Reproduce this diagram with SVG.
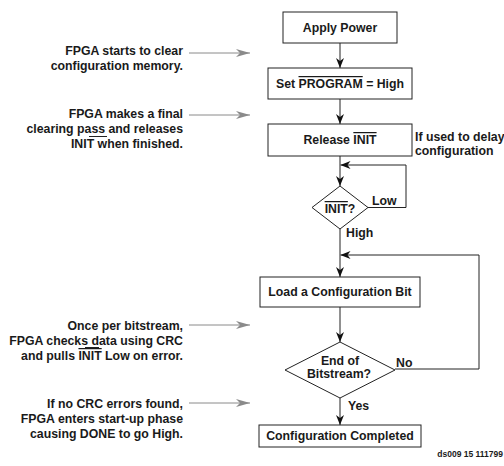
<svg xmlns="http://www.w3.org/2000/svg" width="504" height="466" viewBox="0 0 504 466">
<style>
text{font-family:"Liberation Sans",Arial,sans-serif;font-weight:bold;font-size:12.3px;fill:#1a1a1a}
.c{text-anchor:middle}
.r{text-anchor:end}
.box{fill:#fff;stroke:#222;stroke-width:1}
.ln{fill:none;stroke:#222;stroke-width:1}
.g{fill:none;stroke:#8a8a8a;stroke-width:1}
.ov{text-decoration:overline}
.bar{stroke:#222;stroke-width:1}
</style>
<defs>
<marker id="ah" viewBox="0 0 10 10" refX="10" refY="5" markerWidth="10" markerHeight="10" markerUnits="userSpaceOnUse" orient="auto">
<path d="M0,1 L10,5 L0,9 L3,5 z" fill="#111"/>
</marker>
<marker id="gh" viewBox="0 0 14 8" refX="14" refY="4" markerWidth="14" markerHeight="8" markerUnits="userSpaceOnUse" orient="auto">
<path d="M0,0 L14,4 L0,8 L4,4 z" fill="#8a8a8a"/>
</marker>
</defs>

<g id="connectors">
<line class="ln" x1="340" y1="43" x2="340" y2="68" marker-end="url(#ah)"/>
<line class="ln" x1="340" y1="99" x2="340" y2="124" marker-end="url(#ah)"/>
<line class="ln" x1="340" y1="156" x2="340" y2="186" marker-end="url(#ah)"/>
<polyline class="ln" points="368,207.5 406,207.5 406,165 340.5,165" marker-end="url(#ah)"/>
<line class="ln" x1="340" y1="229" x2="340" y2="277" marker-end="url(#ah)"/>
<polyline class="ln" points="395,369 479,369 479,255 340.5,255" marker-end="url(#ah)"/>
<line class="ln" x1="340" y1="307" x2="340" y2="342" marker-end="url(#ah)"/>
<line class="ln" x1="340" y1="398" x2="340" y2="425" marker-end="url(#ah)"/>
<line class="g" x1="189" y1="53" x2="250" y2="53" marker-end="url(#gh)"/>
<line class="g" x1="189" y1="115" x2="250" y2="115" marker-end="url(#gh)"/>
<line class="g" x1="189" y1="325" x2="250" y2="325" marker-end="url(#gh)"/>
<line class="g" x1="189" y1="403" x2="250" y2="403" marker-end="url(#gh)"/>
</g>

<g id="apply-power">
<rect class="box" x="283" y="12" width="114" height="31"/>
<text class="c" x="340" y="32">Apply Power</text>
</g>
<g id="set-program">
<rect class="box" x="268" y="68" width="144" height="31"/>
<text class="c" x="340" y="88">Set <tspan class="ov">PROGRAM</tspan> = High</text>
</g>
<g id="release-init">
<rect class="box" x="268" y="124" width="144" height="32"/>
<text class="c" x="340" y="144">Release <tspan class="ov">INIT</tspan></text>
</g>
<g id="init-decision">
<polygon class="box" points="340,186 368,207.5 340,229 312,207.5"/>
<text class="c" x="340" y="213"><tspan class="ov">INIT</tspan>?</text>
<text x="372" y="205">Low</text>
<text x="346" y="237">High</text>
</g>
<g id="load-bit">
<rect class="box" x="260" y="277" width="160" height="30"/>
<text class="c" x="340" y="296">Load a Configuration Bit</text>
</g>
<g id="end-decision">
<polygon class="box" points="340,342 395,370 340,398 285,370"/>
<text class="c" x="340" y="365">End of</text>
<text class="c" x="339" y="378">Bitstream?</text>
<text x="396" y="367">No</text>
<text x="348" y="410">Yes</text>
</g>
<g id="config-completed">
<rect class="box" x="259" y="425" width="162" height="22"/>
<text class="c" x="340" y="440">Configuration Completed</text>
</g>

<g id="note-delay">
<text x="415" y="141">If used to delay</text>
<text x="415" y="155">configuration</text>
</g>
<g id="note-clear">
<text class="r" x="183" y="55">FPGA starts to clear</text>
<text class="r" x="183" y="70">configuration memory.</text>
</g>
<g id="note-final">
<text class="r" x="183" y="118">FPGA makes a final</text>
<text class="r" x="183" y="133">clearing pass and releases</text>
<text class="r" x="183" y="148">INIT when finished.</text>
<line class="bar" x1="89" y1="136.5" x2="107" y2="136.5"/>
</g>
<g id="note-crc">
<text class="r" x="183" y="330">Once per bitstream,</text>
<text class="r" x="183" y="345">FPGA checks data using CRC</text>
<text class="r" x="183" y="360">and pulls <tspan class="ov">INIT</tspan> Low on error.</text>
<line class="bar" x1="85" y1="347.5" x2="99" y2="347.5"/>
</g>
<g id="note-done">
<text class="r" x="183" y="408">If no CRC errors found,</text>
<text class="r" x="183" y="423">FPGA enters start-up phase</text>
<text class="r" x="183" y="438">causing DONE to go High.</text>
</g>
<text class="r" x="503" y="457" style="font-size:8.5px">ds009 15 111799</text>
</svg>
